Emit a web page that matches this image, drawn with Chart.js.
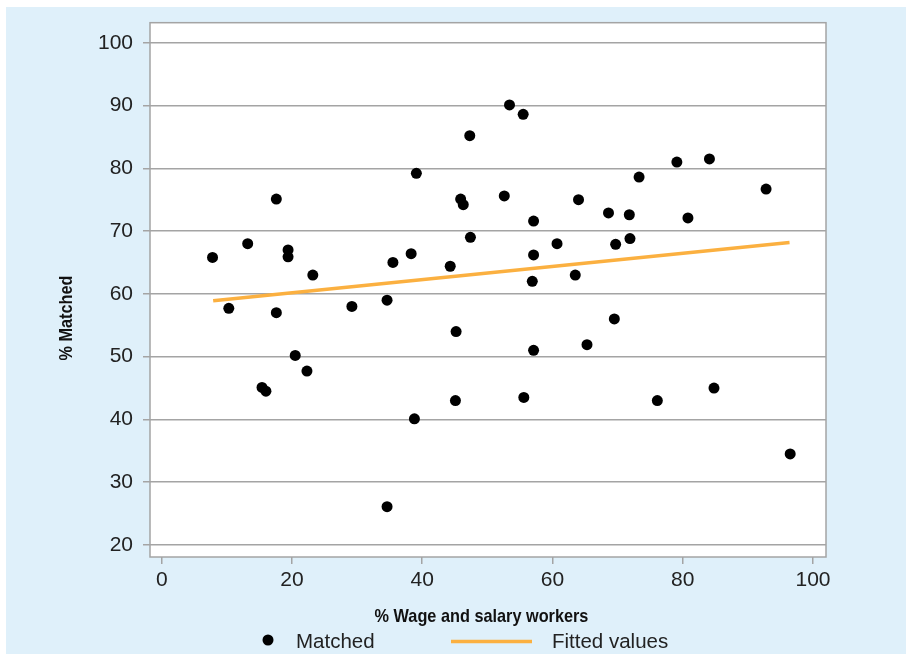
<!DOCTYPE html>
<html>
<head>
<meta charset="utf-8">
<script src="https://cdn.jsdelivr.net/npm/chart.js@4.4.1/dist/chart.umd.min.js"></script>
<style>
  html, body { margin: 0; padding: 0; background: #ffffff; }
  #frame { position: absolute; left: 6px; top: 7px; width: 900px; height: 647px; background: #dff0fa; }
  canvas { display: block; }
</style>
</head>
<body>
<div id="frame"><canvas id="chart" width="900" height="647"></canvas></div>
<script>
// % of wage and salary workers (x) against % matched (y), one point per unit
const wageShare = [7.8, 10.3, 13.2, 17.6, 17.6, 19.4, 19.4, 23.2, 20.5, 22.3,
  15.4, 16.0, 29.2, 34.6, 34.6, 35.5, 38.3, 39.1, 38.8, 44.3,
  45.2, 45.1, 45.9, 46.3, 47.3, 47.4, 52.6, 53.4, 55.5, 55.6,
  57.1, 57.1, 56.9, 57.1, 60.7, 63.5, 64.0, 65.3, 68.6, 69.5,
  69.7, 71.8, 71.9, 73.3, 76.1, 79.1, 80.8, 84.1, 84.8, 92.8, 96.5];
const matchedShare = [65.8, 57.7, 68.0, 75.1, 57.0, 67.0, 65.9, 63.0, 50.2, 47.7,
  45.1, 44.5, 58.0, 59.0, 26.1, 65.0, 66.4, 79.2, 40.1, 64.4,
  54.0, 43.0, 75.1, 74.2, 85.2, 69.0, 75.6, 90.1, 88.6, 43.5,
  71.6, 66.2, 62.0, 51.0, 68.0, 63.0, 75.0, 51.9, 72.9, 56.0,
  67.9, 72.6, 68.8, 78.6, 43.0, 81.0, 72.1, 81.5, 45.0, 76.7, 34.5];

// Linear fit, drawn between the smallest and largest x
const fitX = [7.9, 96.4];
const fitY = [58.9, 68.2];

const xTicks = [0, 20, 40, 60, 80, 100];
const yTicks = [20, 30, 40, 50, 60, 70, 80, 90, 100];

const seriesNames = ['Matched', 'Fitted values'];
const xTitle = '% Wage and salary workers';
const yTitle = '% Matched';

const GRID = '#a4a4a4';
const ORANGE = '#fbb040';
const TICK_FONT = { family: "'Liberation Sans', Arial, sans-serif", size: 21 };
const TITLE_FONT = "bold 18.5px 'Liberation Sans', Arial, sans-serif";
const TITLE_SQUEEZE = 0.88;   // condensed look for the axis titles

// Axis titles in a condensed bold face
function drawTitle(ctx, text, x, y, angle) {
  ctx.save();
  ctx.translate(x, y);
  ctx.rotate(angle);
  ctx.scale(TITLE_SQUEEZE, 1);
  ctx.font = TITLE_FONT;
  ctx.fillStyle = '#111111';
  ctx.textAlign = 'center';
  ctx.textBaseline = 'middle';
  ctx.fillText(text, 0, 0);
  ctx.restore();
}

const plotDecor = {
  id: 'plotDecor',
  beforeDraw(chart) {
    const { ctx, chartArea: a } = chart;
    ctx.save();
    ctx.fillStyle = '#ffffff';
    ctx.fillRect(a.left, a.top, a.right - a.left, a.bottom - a.top);
    ctx.restore();
  },
  beforeDatasetsDraw(chart) {
    const { ctx, chartArea: a } = chart;
    ctx.save();
    ctx.strokeStyle = GRID;
    ctx.lineWidth = 1.5;
    ctx.strokeRect(a.left, a.top, a.right - a.left, a.bottom - a.top);
    ctx.restore();
  },
  afterDraw(chart) {
    const { ctx } = chart;
    drawTitle(ctx, yTitle, 61, 311, -Math.PI / 2);
    drawTitle(ctx, xTitle, 475.5, 610, 0);

    // legend row
    ctx.save();
    ctx.fillStyle = '#000000';
    ctx.beginPath();
    ctx.arc(262, 633, 5.5, 0, Math.PI * 2);
    ctx.fill();
    ctx.strokeStyle = ORANGE;
    ctx.lineWidth = 3.5;
    ctx.beginPath();
    ctx.moveTo(445, 634.5);
    ctx.lineTo(526, 634.5);
    ctx.stroke();
    ctx.font = "20.5px 'Liberation Sans', Arial, sans-serif";
    ctx.fillStyle = '#222222';
    ctx.textAlign = 'left';
    ctx.textBaseline = 'alphabetic';
    ctx.fillText(seriesNames[0], 290, 640.5);
    ctx.fillText(seriesNames[1], 546, 640.5);
    ctx.restore();
  }
};

function noLabelPadding(scale) {
  scale.paddingTop = 0;
  scale.paddingBottom = 0;
  scale.paddingLeft = 0;
  scale.paddingRight = 0;
}

new Chart(document.getElementById('chart'), {
  type: 'scatter',
  data: {
    datasets: [
      {
        label: seriesNames[0],
        data: wageShare.map((x, i) => ({ x: x, y: matchedShare[i] })),
        backgroundColor: '#000000',
        borderWidth: 0,
        pointRadius: 5.5,
        pointHoverRadius: 5.5,
        order: 2
      },
      {
        label: seriesNames[1],
        type: 'line',
        data: fitX.map((x, i) => ({ x: x, y: fitY[i] })),
        borderColor: ORANGE,
        borderWidth: 3.5,
        pointRadius: 0,
        fill: false,
        order: 1
      }
    ]
  },
  options: {
    responsive: false,
    animation: false,
    devicePixelRatio: 1,
    layout: { padding: { top: 15.7, right: 80, bottom: 26.2, left: 0 } },
    plugins: { legend: { display: false }, tooltip: { enabled: false } },
    scales: {
      x: {
        type: 'linear',
        min: -1.8,
        max: 102.0,
        afterBuildTicks(scale) { scale.ticks = xTicks.map(v => ({ value: v })); },
        afterFit(scale) { scale.height = 70.8; noLabelPadding(scale); },
        border: { display: false },
        grid: { drawOnChartArea: false, drawTicks: true, tickLength: 7, tickColor: GRID, lineWidth: 1.5 },
        ticks: { font: TICK_FONT, color: '#222222', padding: 4, maxRotation: 0 }
      },
      y: {
        type: 'linear',
        min: 18.09,
        max: 103.19,
        afterBuildTicks(scale) { scale.ticks = yTicks.map(v => ({ value: v })); },
        afterFit(scale) { scale.width = 144; noLabelPadding(scale); },
        border: { display: false },
        grid: { color: GRID, lineWidth: 1.5, drawTicks: true, tickLength: 7, tickColor: GRID },
        ticks: { font: TICK_FONT, color: '#222222', padding: 10 }
      }
    }
  },
  plugins: [plotDecor]
});
</script>
</body>
</html>
